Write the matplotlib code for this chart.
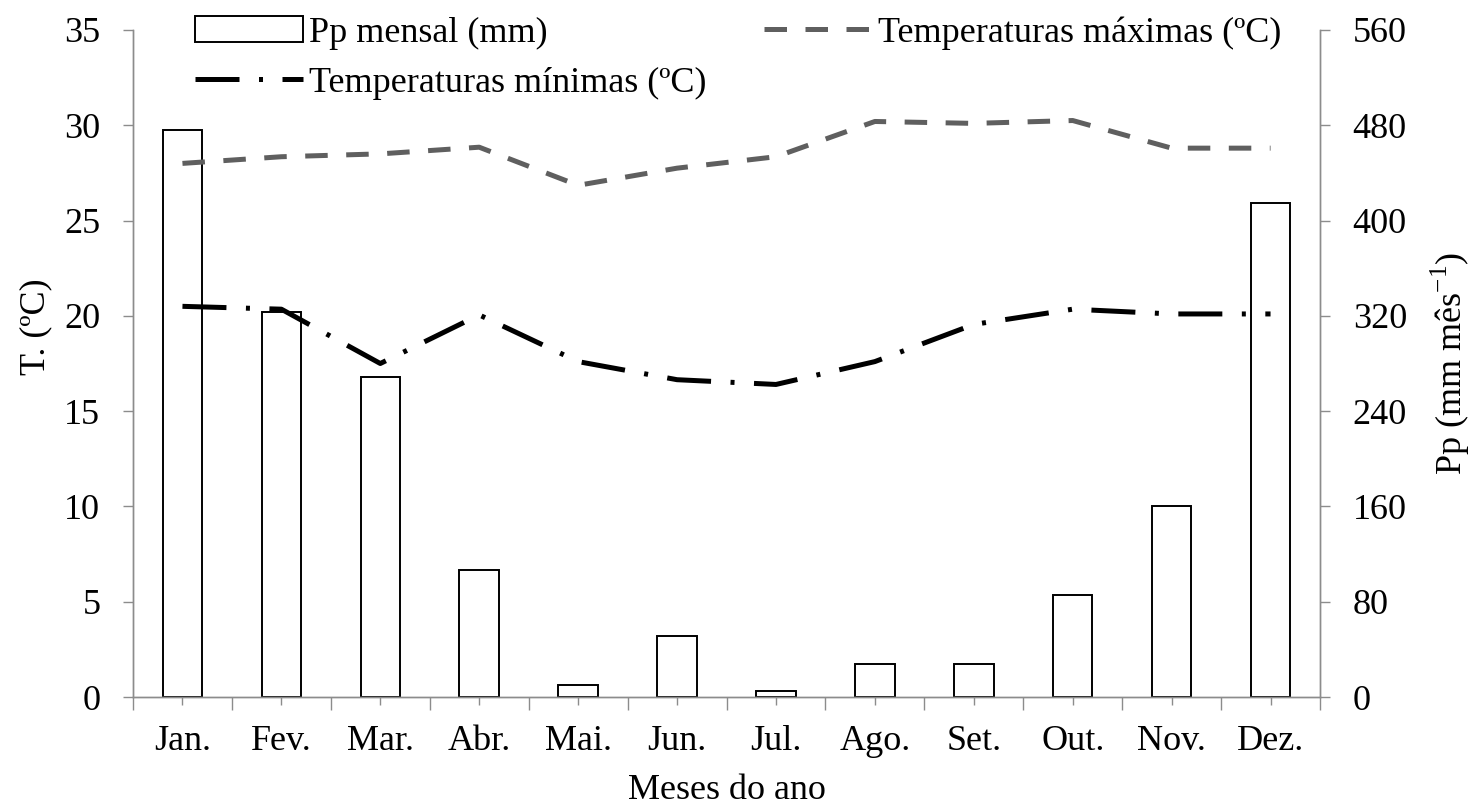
import numpy as np
import matplotlib
matplotlib.use("Agg")
import matplotlib.pyplot as plt

plt.rcParams['font.family'] = ['Liberation Serif', 'DejaVu Serif']
plt.rcParams['mathtext.fontset'] = 'custom'
plt.rcParams['mathtext.rm'] = 'Liberation Serif'

# dados mensais
meses = ['Jan.', 'Fev.', 'Mar.', 'Abr.', 'Mai.', 'Jun.', 'Jul.', 'Ago.', 'Set.', 'Out.', 'Nov.', 'Dez.']
pp_mensal = [476, 323, 269, 107, 10, 51, 5, 28, 28, 86, 160, 415]
t_max = [28.0, 28.35, 28.5, 28.85, 26.85, 27.75, 28.35, 30.2, 30.1, 30.25, 28.8, 28.8]
t_min = [20.5, 20.35, 17.5, 20.05, 17.6, 16.65, 16.4, 17.6, 19.55, 20.35, 20.1, 20.1]

fs = 26
x = np.arange(len(meses))

fig = plt.figure(figsize=(14.7, 8.08), dpi=100)
ax = fig.add_axes([133/1470, 1 - 697/808, (1320-133)/1470, (697-30)/808])
ax2 = ax.twinx()

# barras de precipitação no eixo da direita
barras = ax2.bar(x, pp_mensal, width=0.4, color='white', edgecolor='black',
                 linewidth=1.4, label='Pp mensal (mm)')
ax2.set_ylim(0, 560)
ax2.set_yticks(np.arange(0, 561, 80))

# linhas de temperatura no eixo da esquerda (acima das barras)
ax.set_zorder(ax2.get_zorder() + 1)
ax.patch.set_visible(False)
l_min, = ax.plot(x, t_min, color='black', linewidth=3.6,
                 linestyle=(0, (8.8, 3.9, 0.8, 3.9)), label='Temperaturas mínimas (ºC)')
l_max, = ax.plot(x, t_max, color='#5f5f5f', linewidth=3.6,
                 linestyle=(0, (4.5, 3.7)), label='Temperaturas máximas (ºC)')
ax.set_ylim(0, 35)
ax.set_yticks(np.arange(0, 36, 5))
ax.set_xlim(-0.5, 11.5)
ax.set_xticks(x, meses)
ax.set_xticks(np.arange(-0.5, 12, 1), minor=True)

for a in (ax, ax2):
    a.spines['top'].set_visible(False)
    for s in ('left', 'right', 'bottom'):
        a.spines[s].set_color('#8c8c8c')
        a.spines[s].set_linewidth(1.0)

ax.tick_params(axis='y', direction='out', length=7, width=1, color='#8c8c8c',
               pad=16.5, labelsize=fs)
ax.tick_params(axis='x', which='major', direction='out', length=6, width=1,
               color='#8c8c8c', pad=14, labelsize=fs)
ax.tick_params(axis='x', which='minor', direction='out', length=9, width=1,
               color='#8c8c8c')
ax2.tick_params(axis='y', direction='out', length=7, width=1, color='#8c8c8c',
                pad=16.5, labelsize=fs)

ax.set_ylabel('T. (ºC)', fontsize=fs, va='center', ha='center')
ax.yaxis.set_label_coords(-0.082, 0.555)
ax2.set_ylabel(r'Pp (mm mês$^{\mathregular{-1}}$)', fontsize=fs, va='center', ha='center')
ax2.yaxis.set_label_coords(1.110, 0.5)
ax.set_xlabel('Meses do ano', fontsize=fs, labelpad=12)

fig.legend(handles=[barras, l_min, l_max], ncol=2, loc='upper left',
           bbox_to_anchor=(195/1470, 1 - 16/808), frameon=False, fontsize=fs,
           handlelength=3.0, handletextpad=0.15, columnspacing=1.6,
           borderpad=0, borderaxespad=0, labelspacing=0.48)

fig.savefig('out.png', dpi=100)
